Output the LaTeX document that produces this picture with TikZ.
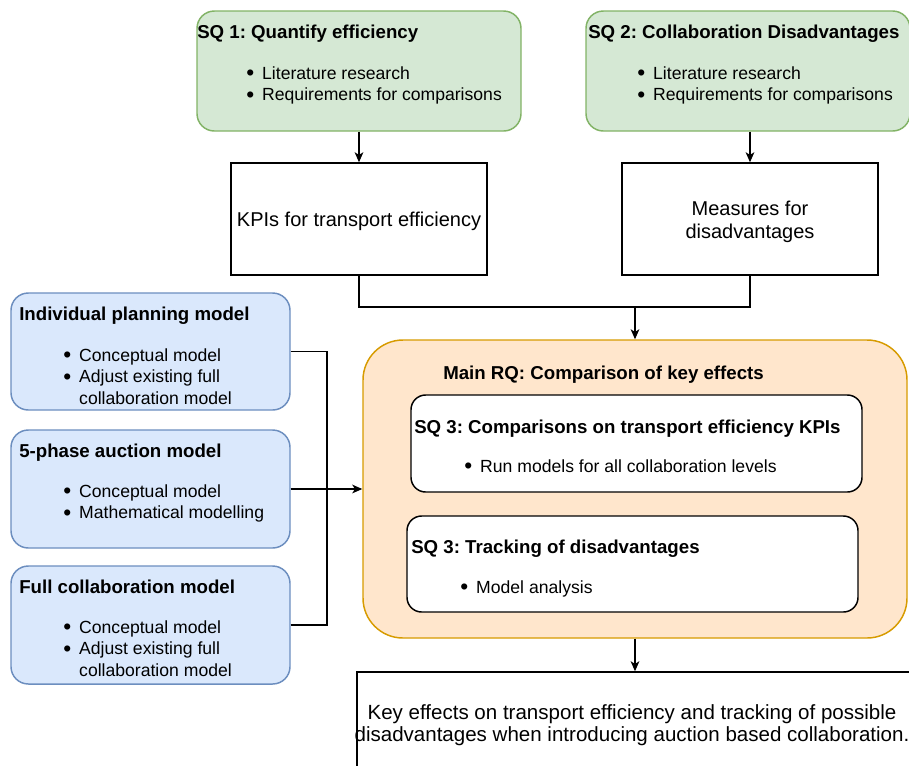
\documentclass[tikz,border=0pt]{standalone}
\usepackage{fontspec}
\setmainfont{Liberation Sans}
\usetikzlibrary{arrows.meta}
\frenchspacing

\definecolor{grfill}{HTML}{D5E8D4}
\definecolor{grline}{HTML}{82B366}
\definecolor{blfill}{HTML}{DAE8FC}
\definecolor{blline}{HTML}{6C8EBF}
\definecolor{orfill}{HTML}{FFE6CC}
\definecolor{orline}{HTML}{D79B00}

\newcommand\titlefont{\fontsize{14}{17}\selectfont\bfseries}
\newcommand\listfont{\fontsize{13.2}{16.2}\selectfont}
\newcommand\boxfont{\fontsize{15}{16.8}\selectfont}
\newcommand\outfont{\fontsize{15.4}{16.8}\selectfont}
\newcommand\bulletlist[1]{\begin{tabular}[t]{@{}l@{\hspace{6pt}}l@{}}#1\end{tabular}}
\newcommand\bigdot{\raisebox{-1.4pt}{\fontsize{17}{17}\selectfont\textbullet}}
\newcommand\bitem{\bigdot &}

\begin{document}
\begin{tikzpicture}[x=0.75pt,y=-0.75pt,
  wh/.style 2 args={minimum width={#1*0.75pt},minimum height={#2*0.75pt}},
  base/.style={rectangle,inner sep=0pt,line width=1.1pt},
  sqbox/.style={base,draw=grline,fill=grfill,rounded corners=13pt},
  modelbox/.style={base,draw=blline,fill=blfill,rounded corners=13pt},
  mainbox/.style={base,draw=orline,fill=orfill,rounded corners=30pt},
  subbox/.style={base,draw=black,fill=white,rounded corners=11pt},
  outbox/.style={base,draw=black,fill=white},
  boxtext/.style={inner sep=0pt,font=\boxfont,align=center},
  title/.style={anchor=base west,inner sep=0pt,font=\titlefont},
  list/.style={anchor=base west,inner sep=0pt,font=\listfont},
  link/.style={draw=black,line width=1.1pt},
  arr/.style={link,-{Stealth[length=7.5pt,width=6.5pt,inset=2pt]}}]

\clip (0,0) rectangle (909,765);

% sub-question boxes at the top
\node[sqbox,wh={324}{120}] (sq1) at (359,71) {};
\node[title] (sq1t) at (197,38) {SQ 1: Quantify efficiency};
\node[list] (sq1l) at (246,79) {\bulletlist{\bitem Literature research\\ \bitem Requirements for comparisons}};

\node[sqbox,wh={324}{120}] (sq2) at (748,71) {};
\node[title] (sq2t) at (588,38) {SQ 2: Collaboration Disadvantages};
\node[list] (sq2l) at (637,79) {\bulletlist{\bitem Literature research\\ \bitem Requirements for comparisons}};

% intermediate results
\node[outbox,wh={256}{112}] (kpi) at (359,219) {};
\node[boxtext] (kpit) at (359,221.5) {KPIs for transport efficiency};
\node[outbox,wh={256}{112}] (meas) at (750,219) {};
\node[boxtext] (meast) at (750,222) {Measures for\\disadvantages};

% model boxes on the left
\node[modelbox,wh={279}{117}] (ind) at (150.5,351.5) {};
\node[title] (indt) at (19,320) {Individual planning model};
\node[list] (indl) at (63,361) {\bulletlist{\bitem Conceptual model\\ \bitem Adjust existing full\\ & collaboration model}};

\node[modelbox,wh={279}{118}] (auc) at (150.5,489) {};
\node[title] (auct) at (19,457) {5-phase auction model};
\node[list] (aucl) at (63,497) {\bulletlist{\bitem Conceptual model\\ \bitem Mathematical modelling}};

\node[modelbox,wh={279}{118}] (full) at (150.5,625) {};
\node[title] (fullt) at (19,593) {Full collaboration model};
\node[list] (fulll) at (63,633) {\bulletlist{\bitem Conceptual model\\ \bitem Adjust existing full\\ & collaboration model}};

% main research question
\node[mainbox,wh={544}{298}] (main) at (635,489) {};
\node[title] (maint) at (443,379) {Main RQ: Comparison of key effects};

\node[subbox,wh={451}{97}] (in1) at (636.5,443.5) {};
\node[title] (in1t) at (414,433) {SQ 3: Comparisons on transport efficiency KPIs};
\node[list] (in1l) at (464,472) {\bulletlist{\bitem Run models for all collaboration levels}};

\node[subbox,wh={451}{96}] (in2) at (632.5,564) {};
\node[title] (in2t) at (411,553) {SQ 3: Tracking of disadvantages};
\node[list] (in2l) at (460,593) {\bulletlist{\bitem Model analysis}};

% final outcome
\node[outbox,wh={556}{98}] (out) at (635,721) {};
\node[boxtext,font=\outfont] (outt) at (632,725) {Key effects on transport efficiency and tracking of possible\\disadvantages when introducing auction based collaboration.};

% connectors
\draw[arr] (sq1.south) -- (kpi.north);
\draw[arr] (sq2.south -| meas.north) -- (meas.north);
\coordinate (join) at (635,307);
\draw[link] (kpi.south) |- (join) -| (meas.south);
\draw[arr] (join) -- (main.north);
\coordinate (bus) at (327,489);
\draw[link] (ind.east) -| (bus);
\draw[link] (full.east) -| (bus);
\draw[arr] (auc.east) -- (main.west);
\draw[arr] (main.south) -- (out.north);
\end{tikzpicture}
\end{document}
